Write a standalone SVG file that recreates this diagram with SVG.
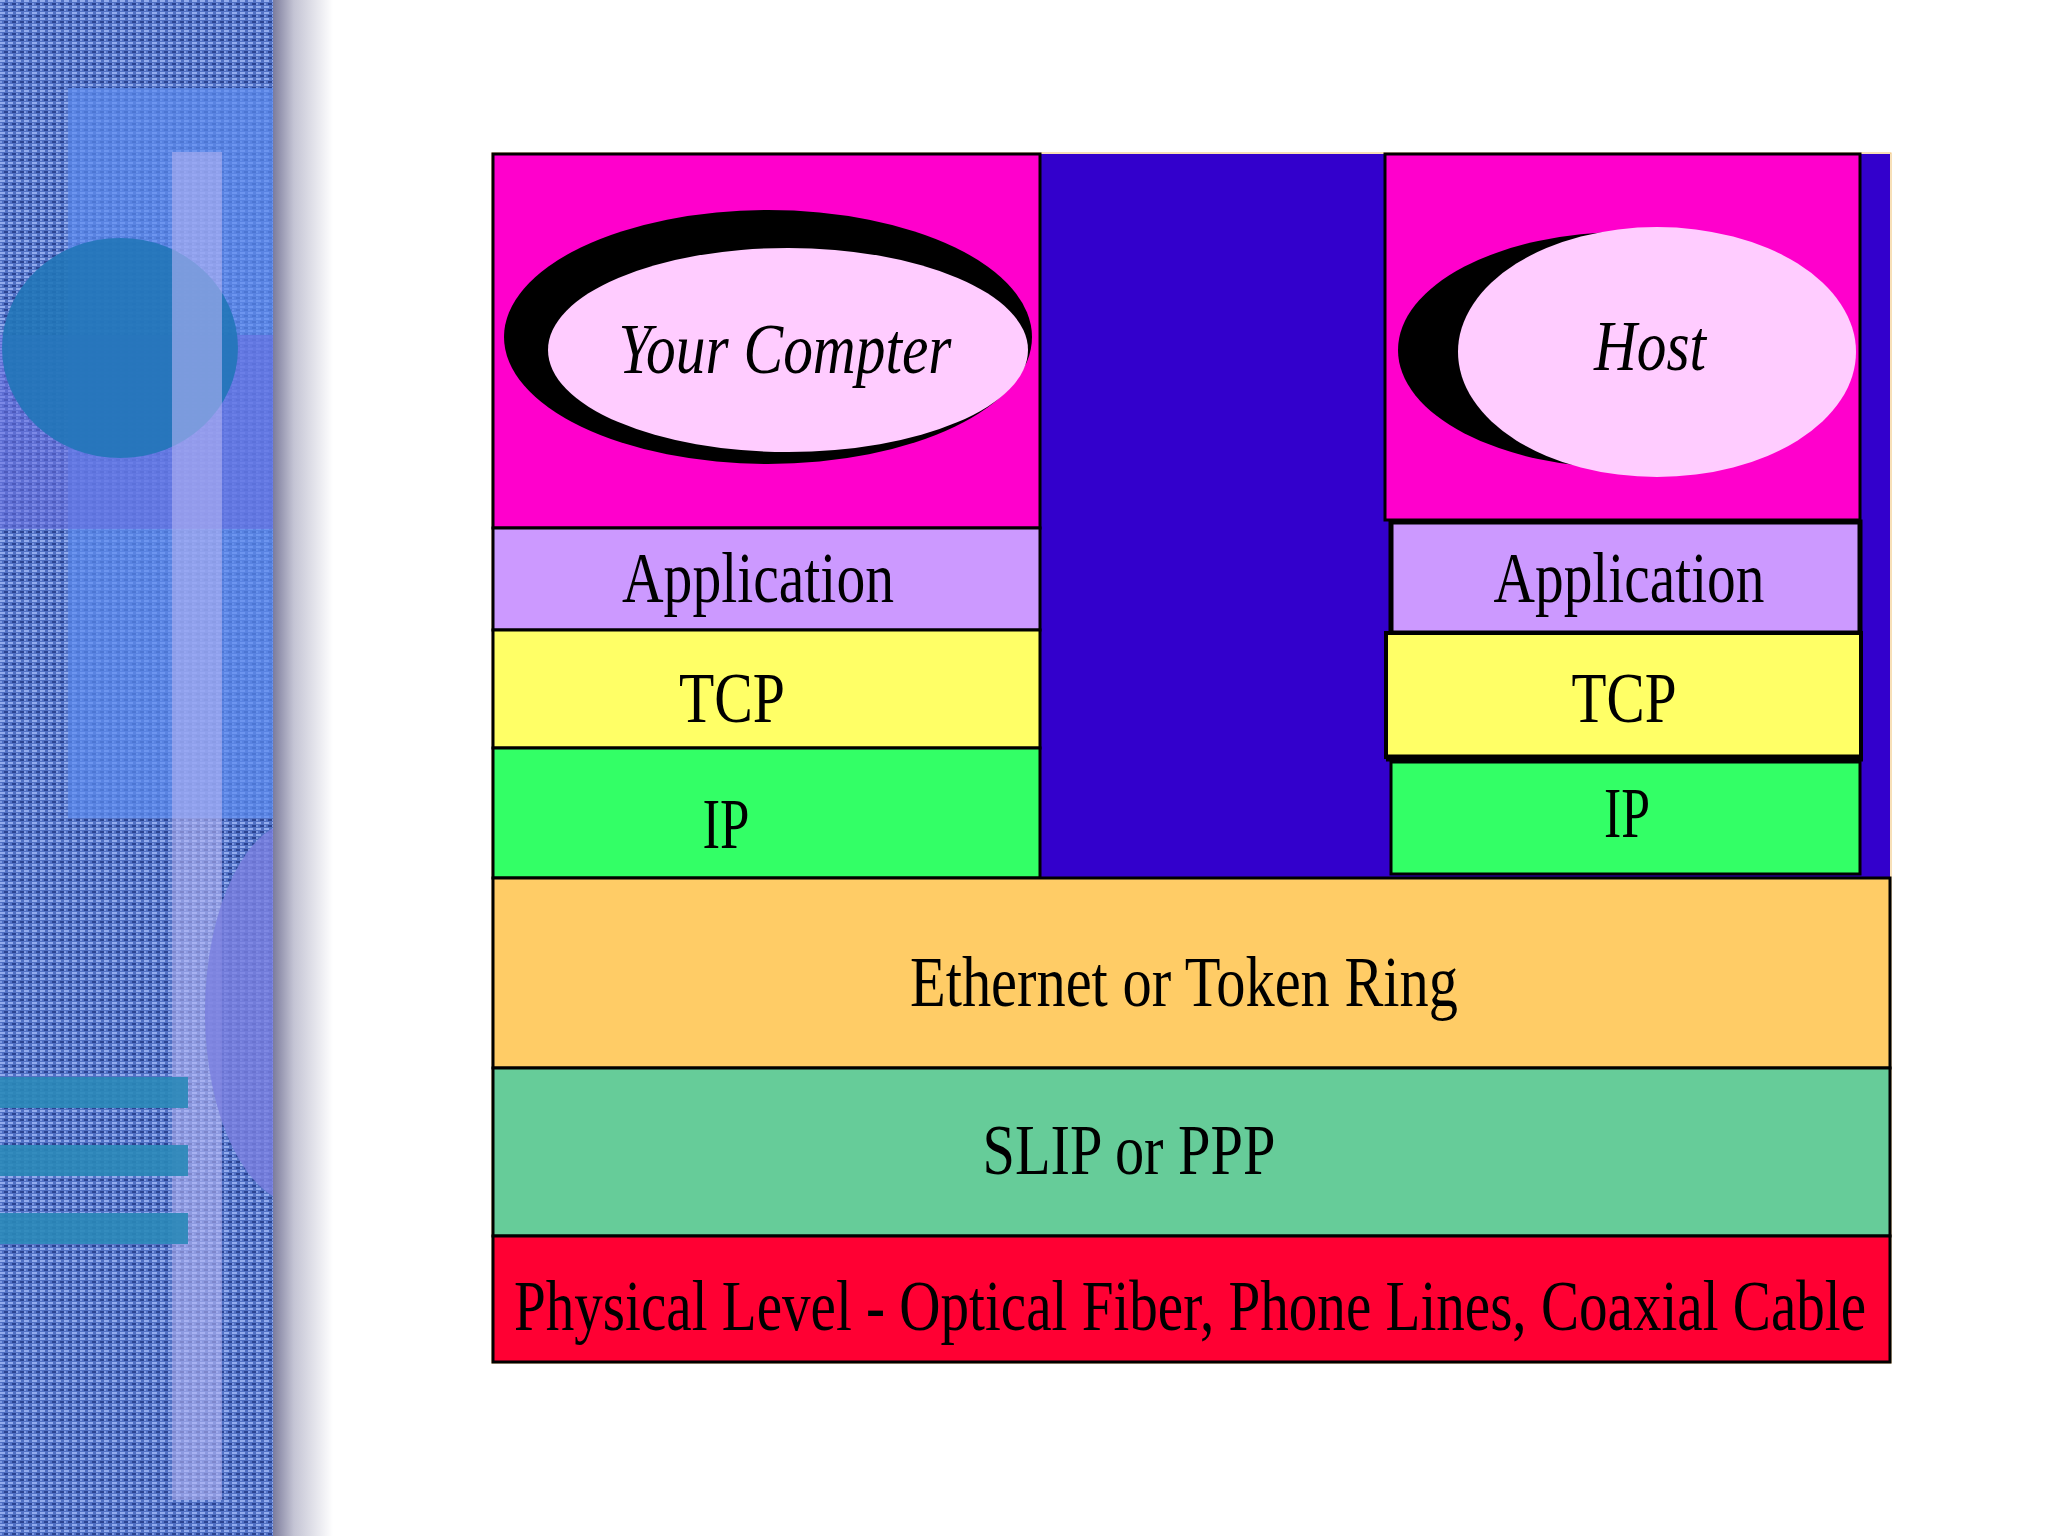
<svg xmlns="http://www.w3.org/2000/svg" width="2048" height="1536" viewBox="0 0 2048 1536">
<defs>
<pattern id="weave" width="8" height="6" patternUnits="userSpaceOnUse">
<rect width="8" height="6" fill="#5070c4"/>
<rect x="0" y="0" width="5" height="2" fill="#93aced"/>
<rect x="4" y="3" width="4" height="2" fill="#2b4390"/>
<rect x="0" y="3" width="2" height="2" fill="#7d99e2"/>
</pattern>
<linearGradient id="shadow" x1="0" y1="0" x2="1" y2="0">
<stop offset="0" stop-color="#7c7c9c"/>
<stop offset="0.35" stop-color="#c4c4d4"/>
<stop offset="1" stop-color="#ffffff"/>
</linearGradient>
<clipPath id="panelClip"><rect x="0" y="0" width="273" height="1536"/></clipPath>
<clipPath id="lpink"><rect x="493" y="154" width="547" height="374"/></clipPath>
<clipPath id="rpink"><rect x="1385" y="154" width="475" height="366"/></clipPath>
</defs>
<style>
.box{stroke:#000;stroke-width:3}
.lbl{font-family:"Liberation Serif","Times New Roman",serif;font-size:72px;fill:#000;text-anchor:middle}
.it{font-style:italic}
</style>
<rect width="2048" height="1536" fill="#ffffff"/>
<g id="background-panel" clip-path="url(#panelClip)">
<rect x="0" y="0" width="273" height="1536" fill="url(#weave)"/>
<rect x="68" y="88" width="205" height="730" fill="#5c8cf0" opacity="0.7"/>
<rect x="0" y="335" width="273" height="194" fill="#6a6ee0" opacity="0.55"/>
<ellipse cx="120" cy="348" rx="118" ry="110" fill="#2175b8" opacity="0.9"/>
<rect x="172" y="152" width="50" height="1348" fill="#b4b4f4" opacity="0.6"/>
<ellipse cx="300" cy="1012" rx="95" ry="192" fill="#7a80e0" opacity="0.8"/>
<rect x="0" y="1077" width="188" height="31" fill="#2a88b8" opacity="0.9"/>
<rect x="0" y="1145" width="188" height="31" fill="#2a88b8" opacity="0.9"/>
<rect x="0" y="1213" width="188" height="31" fill="#2a88b8" opacity="0.9"/>
</g>
<rect x="273" y="0" width="60" height="1536" fill="url(#shadow)"/>
<g id="backdrop">
<rect x="1040" y="154" width="850" height="724" fill="#3300CC"/>
<rect x="492" y="153" width="1399" height="1210" fill="none" stroke="#f0c070" stroke-width="1"/>
</g>
<g id="your-computer">
<rect class="box" x="493" y="154" width="547" height="374" fill="#FF00CC"/>
<g clip-path="url(#lpink)">
<ellipse cx="768" cy="337" rx="264" ry="127" fill="#000"/>
<ellipse cx="788" cy="350" rx="240" ry="102" fill="#FFCCFF"/>
</g>
<text class="lbl it" x="785" y="373" textLength="333" lengthAdjust="spacingAndGlyphs">Your Compter</text>
</g>
<g id="left-application">
<rect class="box" x="493" y="528" width="547" height="102" fill="#CC99FF"/>
<text class="lbl" x="758" y="602" textLength="272" lengthAdjust="spacingAndGlyphs">Application</text>
</g>
<g id="left-tcp">
<rect class="box" x="493" y="630" width="547" height="118" fill="#FFFF66"/>
<text class="lbl" x="732" y="722" textLength="106" lengthAdjust="spacingAndGlyphs">TCP</text>
</g>
<g id="left-ip">
<rect class="box" x="493" y="748" width="547" height="130" fill="#33FF66"/>
<text class="lbl" x="726" y="848" textLength="47" lengthAdjust="spacingAndGlyphs">IP</text>
</g>
<g id="host">
<rect class="box" x="1385" y="154" width="475" height="366" fill="#FF00CC"/>
<g clip-path="url(#rpink)">
<ellipse cx="1625" cy="350" rx="227" ry="118" fill="#000"/>
<ellipse cx="1657" cy="352" rx="199" ry="125" fill="#FFCCFF"/>
</g>
<text class="lbl it" x="1650" y="370" textLength="112" lengthAdjust="spacingAndGlyphs">Host</text>
</g>
<g id="right-application">
<rect x="1391" y="522" width="469" height="111" fill="#CC99FF" stroke="#000" stroke-width="5"/>
<text class="lbl" x="1629" y="602" textLength="271" lengthAdjust="spacingAndGlyphs">Application</text>
</g>
<g id="right-tcp">
<rect x="1386" y="633" width="475" height="124" fill="#FFFF66" stroke="#000" stroke-width="4"/>
<line x1="1386" y1="758" x2="1863" y2="758" stroke="#000" stroke-width="7"/>
<text class="lbl" x="1624" y="722" textLength="105" lengthAdjust="spacingAndGlyphs">TCP</text>
</g>
<g id="right-ip">
<rect class="box" x="1391" y="762" width="469" height="112" fill="#33FF66"/>
<text class="lbl" x="1627" y="837" textLength="46" lengthAdjust="spacingAndGlyphs">IP</text>
</g>
<g id="ethernet">
<rect class="box" x="493" y="878" width="1397" height="190" fill="#FFCC66"/>
<text class="lbl" x="1184" y="1006" textLength="548" lengthAdjust="spacingAndGlyphs">Ethernet or Token Ring</text>
</g>
<g id="slip">
<rect class="box" x="493" y="1068" width="1397" height="168" fill="#66CC99"/>
<text class="lbl" x="1129" y="1174" textLength="293" lengthAdjust="spacingAndGlyphs">SLIP or PPP</text>
</g>
<g id="physical">
<rect class="box" x="493" y="1236" width="1397" height="126" fill="#FF0033"/>
<g transform="translate(1190,1330) scale(1,1.286)">
<text class="lbl" x="0" y="0" style="font-size:56px" textLength="1352" lengthAdjust="spacingAndGlyphs">Physical Level - Optical Fiber, Phone Lines, Coaxial Cable</text>
</g>
</g>
<g id="connectors"/>
</svg>
